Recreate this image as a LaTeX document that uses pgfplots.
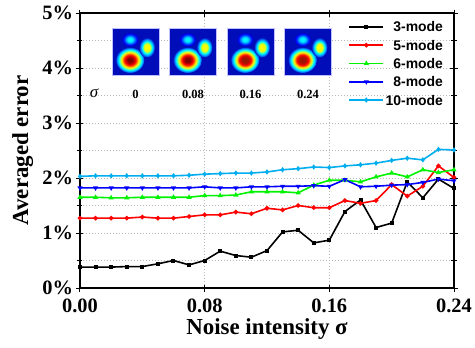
\documentclass[border=0pt]{standalone}
\usepackage{fontspec}
\setmainfont{Liberation Serif}
\newfontfamily\legendfont{Liberation Sans}
\usepackage{pgfplots}
\usepackage{pgfplotstable}
\pgfplotsset{compat=1.18}

\definecolor{jbg}{rgb}{0,0.05,0.72}
\definecolor{jdr}{rgb}{0.5,0,0}
\definecolor{jdr2}{rgb}{0.62,0.08,0}
\definecolor{jlb}{rgb}{0,0.45,1}
\definecolor{jcy}{rgb}{0,0.95,1}
\definecolor{jyg}{rgb}{0.85,1,0.1}
\definecolor{mygreen}{rgb}{0,0.95,0}

\pgfdeclareradialshading{bigblobA}{\pgfpoint{0bp}{0bp}}{color(0bp)=(jdr); color(4bp)=(jdr); color(9.5bp)=(red); color(15bp)=(yellow); color(19.5bp)=(cyan); color(23bp)=(jlb); color(25bp)=(jbg); color(50bp)=(jbg)}
\pgfdeclareradialshading{bigblobB}{\pgfpoint{0bp}{0bp}}{color(0bp)=(jdr2); color(5bp)=(jdr2); color(10bp)=(red); color(15bp)=(yellow); color(19.5bp)=(cyan); color(23bp)=(jlb); color(25bp)=(jbg); color(50bp)=(jbg)}
\pgfdeclareradialshading{rightblob}{\pgfpoint{0bp}{0bp}}{color(0bp)=(yellow); color(4bp)=(yellow); color(10bp)=(jyg); color(15bp)=(cyan); color(21bp)=(jlb); color(25bp)=(jbg); color(50bp)=(jbg)}
\pgfdeclareradialshading{topblob}{\pgfpoint{0bp}{0bp}}{color(0bp)=(jcy); color(7bp)=(jcy); color(14bp)=(jlb); color(20bp)=(blue); color(25bp)=(jbg); color(50bp)=(jbg)}

\newcommand{\blobimg}[3]{%
  \begin{scope}[shift={(#1bp,#2bp)}]
    \fill[jbg] (0,0) rectangle (47bp,47bp);
    \begin{scope}
      \clip (0,0) rectangle (47bp,47bp);
      \shade[shading=#3] (18bp,15bp) ellipse [x radius=14.5bp, y radius=13bp];
      \shade[shading=rightblob] (35bp,27.5bp) ellipse [x radius=8bp, y radius=10bp];
      \shade[shading=topblob] (18bp,35.5bp) ellipse [x radius=8.5bp, y radius=7bp];
    \end{scope}
    \draw[blue!25!white, line width=0.6bp] (0,0) rectangle (47bp,47bp);
  \end{scope}}

\pgfplotstableread{
x     m3   m5   m6   m8   m10
0.00 0.38 1.27 1.65 1.82 2.03
0.01 0.38 1.27 1.65 1.82 2.04
0.02 0.38 1.27 1.64 1.82 2.04
0.03 0.39 1.27 1.64 1.82 2.04
0.04 0.39 1.29 1.65 1.82 2.04
0.05 0.44 1.27 1.65 1.82 2.04
0.06 0.50 1.27 1.65 1.82 2.04
0.07 0.42 1.30 1.65 1.82 2.05
0.08 0.50 1.33 1.68 1.84 2.07
0.09 0.67 1.33 1.68 1.82 2.08
0.10 0.59 1.38 1.69 1.82 2.09
0.11 0.56 1.35 1.75 1.84 2.09
0.12 0.68 1.45 1.75 1.84 2.11
0.13 1.02 1.42 1.75 1.85 2.15
0.14 1.05 1.50 1.73 1.85 2.17
0.15 0.82 1.46 1.87 1.86 2.20
0.16 0.87 1.46 1.96 1.85 2.19
0.17 1.39 1.59 1.96 1.97 2.22
0.18 1.60 1.54 1.93 1.84 2.24
0.19 1.10 1.59 2.02 1.85 2.27
0.20 1.18 1.88 2.09 1.87 2.32
0.21 1.93 1.67 2.02 1.88 2.36
0.22 1.64 1.85 2.15 1.92 2.33
0.23 1.98 2.22 2.10 1.98 2.52
0.24 1.81 2.01 2.15 1.95 2.51
}\datatable

\begin{document}
\begin{tikzpicture}
\useasboundingbox (-80bp,-60bp) rectangle (395bp,288bp);
\begin{axis}[
  scale only axis, width=374bp, height=275bp,
  xmin=0, xmax=0.24, ymin=0, ymax=5,
  xtick={0,0.08,0.16,0.24}, ytick={0,1,2,3,4,5},
  minor y tick num=1, minor x tick num=0,
  x tick label style={/pgf/number format/fixed, /pgf/number format/fixed zerofill, /pgf/number format/precision=2, yshift=-3.5bp},
  yticklabel={\pgfmathprintnumber{\tick}\%},
  /pgf/number format/assume math mode=true,
  ticklabel style={font=\fontsize{20.5}{22}\selectfont\bfseries},
  axis line style={line width=1.2bp},
  every tick/.style={black, line width=1bp},
  major tick length=7bp, minor tick length=5bp,
  tick align=center,
  xmajorgrids, ymajorgrids, yminorgrids,
  grid style={gray!55, dash pattern=on 1.5bp off 1.5bp, line width=0.6bp},
  xlabel={Noise intensity σ}, ylabel={Averaged error},
  label style={font=\fontsize{23}{25}\selectfont\bfseries},
  xlabel style={yshift=1bp},
  ylabel style={at={(axis description cs:-0.153,0.5)}, anchor=center},
  every axis plot/.append style={line width=1.6bp, mark size=1.4bp},
  legend image code/.code={\draw[mark repeat=2,mark phase=2] plot coordinates {(0bp,0bp) (17bp,0bp) (34bp,0bp)};},
  legend cell align=right,
  legend style={draw=none, fill=none, inner sep=0pt, outer sep=0pt,
    at={(axis description cs:0.9746,0.982)}, anchor=north east,
    font=\fontsize{14}{16}\selectfont\legendfont\bfseries,
    row sep=0.5bp, column sep=0pt,
    nodes={inner xsep=1.5bp, inner ysep=0pt, text height=13.9bp, text depth=3.9bp}},
]
\addplot[black, mark=square*, mark size=1.2bp] table[x=x,y=m3] {\datatable};
\addlegendentry{3-mode}
\addplot[red, mark=*] table[x=x,y=m5] {\datatable};
\addlegendentry{5-mode}
\addplot[mygreen, mark=triangle*] table[x=x,y=m6] {\datatable};
\addlegendentry{6-mode}
\addplot[blue, mark=triangle*, mark options={rotate=180}] table[x=x,y=m8] {\datatable};
\addlegendentry{8-mode}
\addplot[cyan, mark=diamond*] table[x=x,y=m10] {\datatable};
\addlegendentry{10-mode}
\end{axis}
\blobimg{32}{213}{bigblobA}
\blobimg{89.5}{213}{bigblobA}
\blobimg{147}{213}{bigblobB}
\blobimg{204.5}{213}{bigblobB}
\node[font=\fontsize{17}{18}\selectfont\itshape] at (14bp,195bp) {σ};
\begin{scope}[every node/.style={font=\fontsize{12.6}{14}\selectfont\bfseries}]
\node at (55.5bp,194bp) {0};
\node at (113bp,194bp) {0.08};
\node at (170.5bp,194bp) {0.16};
\node at (228bp,194bp) {0.24};
\end{scope}
\end{tikzpicture}
\end{document}
